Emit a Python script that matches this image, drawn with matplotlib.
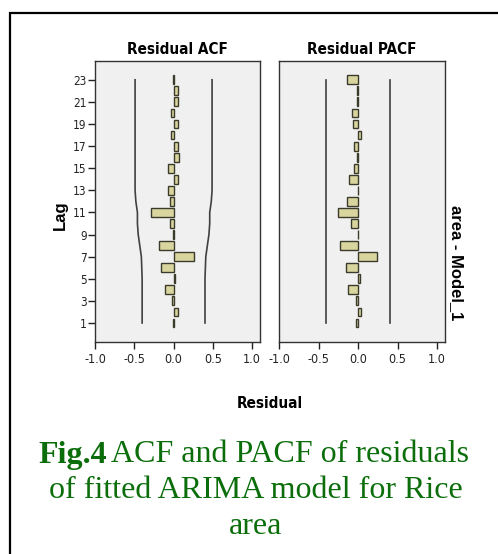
import matplotlib
matplotlib.use("Agg")
import matplotlib.pyplot as plt
from matplotlib.patches import Rectangle

# lags shown in both panels
lags = list(range(1, 24))

# residual ACF, lag 1 .. 23
acf = [-0.01, 0.05, -0.02, -0.115, 0.02, -0.16, 0.255, -0.19, -0.01, -0.04,
       -0.29, -0.05, -0.065, 0.06, -0.065, 0.075, 0.05, -0.035, 0.05, -0.035,
       0.05, 0.05, -0.01]

# residual PACF, lag 1 .. 23
pacf = [-0.02, 0.04, -0.03, -0.125, 0.03, -0.155, 0.245, -0.225, -0.005, -0.085,
        -0.255, -0.135, 0.005, -0.11, -0.05, -0.01, -0.045, 0.035, -0.07, -0.075,
        -0.01, -0.01, -0.135]

# confidence limits (upper; lower is the negative)
acf_limit = [0.40, 0.40, 0.40, 0.40, 0.40, 0.405, 0.41, 0.43, 0.45, 0.46,
             0.46, 0.48, 0.49, 0.49, 0.49, 0.49, 0.49, 0.49, 0.49, 0.49,
             0.49, 0.49, 0.49]
pacf_limit = [0.40] * 23

xticks = [-1.0, -0.5, 0.0, 0.5, 1.0]
yticks = list(range(1, 24, 2))

narrow = dict(family="DejaVu Sans", fontstretch="condensed")
bold_font = ["Liberation Sans", "DejaVu Sans"]

W, H = 498, 554
fig = plt.figure(figsize=(W / 100, H / 100), dpi=100)
fig.patch.set_facecolor("white")


def px_axes(x0, y0, x1, y1):
    # axes from pixel box (top-left origin)
    return fig.add_axes([x0 / W, 1 - y1 / H, (x1 - x0) / W, (y1 - y0) / H])


def draw_panel(ax, values, limit, title, show_y):
    ax.set_facecolor("#f0f0f0")
    ax.barh(lags, values, height=0.8, color="#d9d59f", edgecolor="#3b3b2c",
            linewidth=1.0)
    ax.plot(limit, lags, color="#404040", linewidth=1.2)
    ax.plot([-v for v in limit], lags, color="#404040", linewidth=1.2)
    ax.set_xlim(-1.0, 1.1)
    ax.set_ylim(-0.72, 24.7)
    ax.set_xticks(xticks)
    ax.set_xticklabels([f"{t:.1f}" for t in xticks], fontsize=9, **narrow)
    ax.tick_params(axis="x", direction="out", length=5, width=1, pad=3,
                   colors="#222222")
    if show_y:
        ax.set_yticks(yticks)
        ax.set_yticklabels([str(t) for t in yticks], fontsize=8.5, **narrow)
        ax.tick_params(axis="y", direction="out", length=5, width=1, pad=1,
                       colors="#222222")
    else:
        ax.set_yticks([])
    for sp in ax.spines.values():
        sp.set_color("#333333")
        sp.set_linewidth(1.0)
    ax.set_title(title, fontweight="bold", fontsize=11, pad=5, **narrow)


ax1 = px_axes(95, 61, 260, 342)
ax2 = px_axes(279, 61, 445, 342)
draw_panel(ax1, acf, acf_limit, "Residual ACF", True)
draw_panel(ax2, pacf, pacf_limit, "Residual PACF", False)

fig.text(60 / W, 1 - 215 / H, "Lag", rotation=90, ha="center", va="center",
         family=bold_font, fontweight="bold", fontsize=12)
fig.text(456 / W, 1 - 263 / H, "area - Model_1", rotation=-90, ha="center",
         va="center", family=bold_font, fontweight="bold", fontsize=12)
fig.text(270 / W, 1 - 403 / H, "Residual", ha="center", va="center",
         fontweight="bold", fontsize=11, **narrow)

# caption
green = "#0b6e0b"
serif = ["Liberation Serif", "DejaVu Serif"]
cap_size = 23
cap_y = 1 - 455 / H
t1 = fig.text(38 / W, cap_y, "Fig.4", ha="left", va="center", family=serif,
              fontweight="bold", fontsize=cap_size, color=green)
fig.canvas.draw()
bb = t1.get_window_extent()
fig.text((bb.x1 + 4) / W, cap_y,
         "ACF and PACF of residuals", ha="left", va="center", family=serif,
         fontsize=cap_size, color=green)
fig.text(256 / W, 1 - 491 / H, "of fitted ARIMA model for Rice", ha="center",
         va="center", family=serif, fontsize=cap_size, color=green)
fig.text(256 / W, 1 - 526 / H, "area", ha="center", va="center",
         family=serif, fontsize=cap_size, color=green)

# outer frame, running off the right and bottom edges
fig.patches.append(Rectangle((10 / W, -0.1), 1.2, 1 - 12.5 / H + 0.1,
                             transform=fig.transFigure, fill=False,
                             edgecolor="black", linewidth=1.6))

fig.savefig("out.png", dpi=100)
